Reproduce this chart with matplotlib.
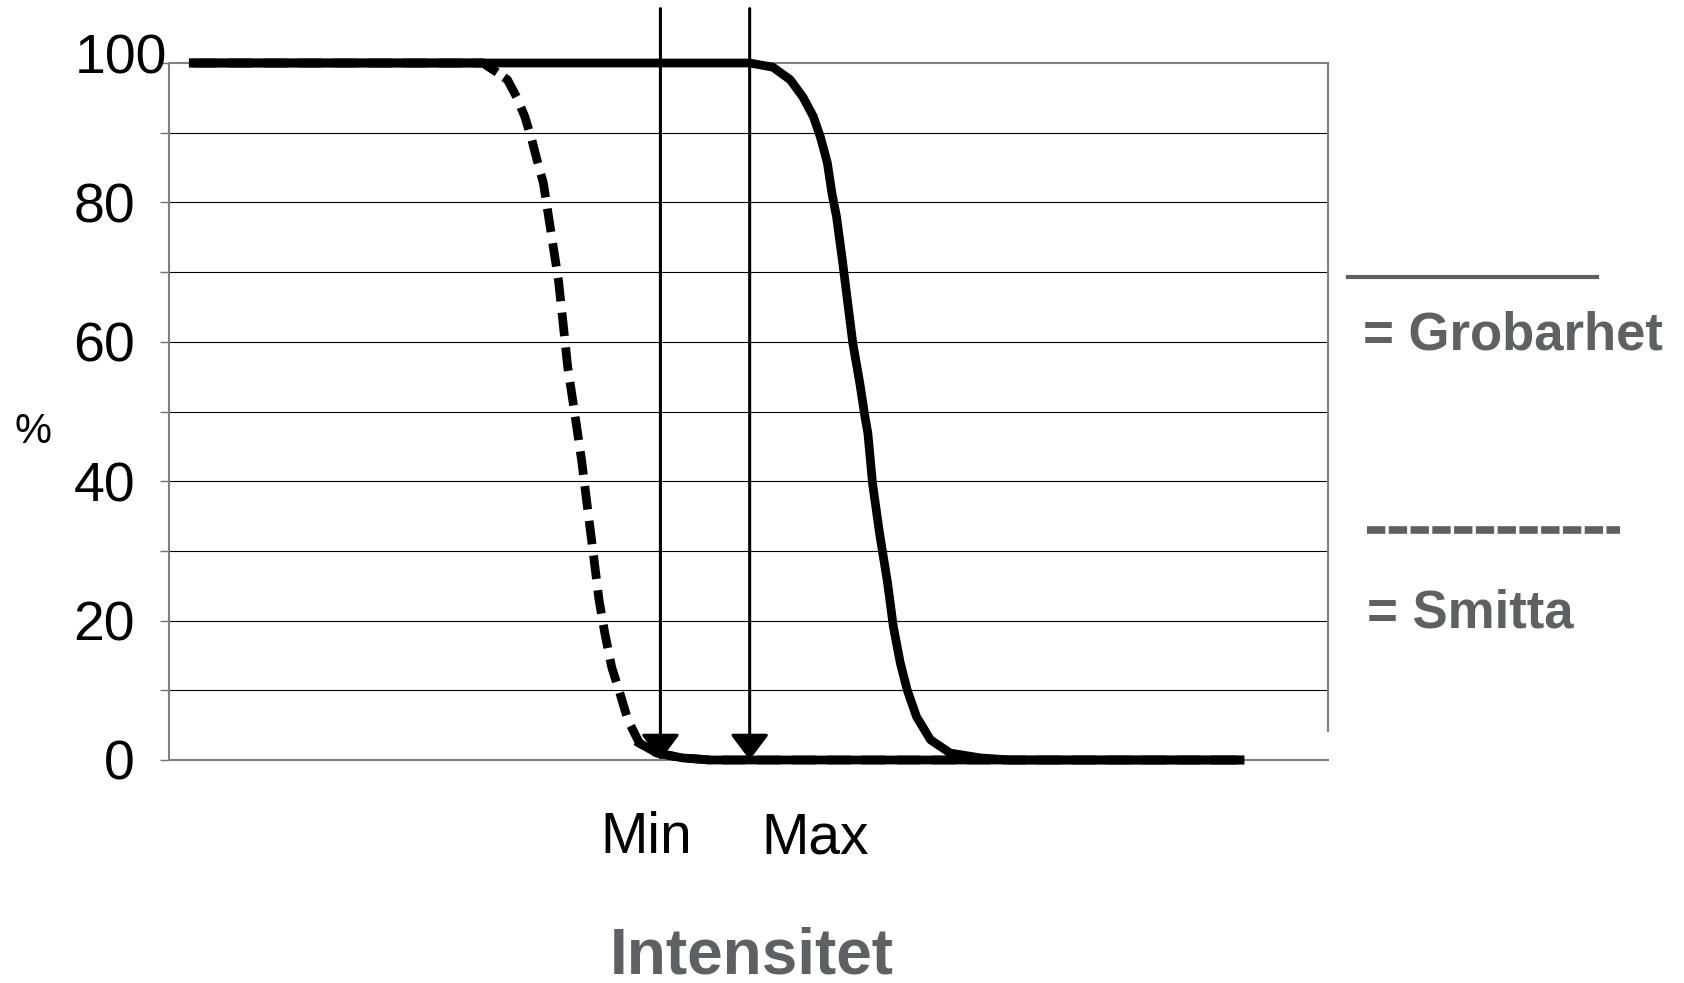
import numpy as np
import matplotlib.pyplot as plt
from matplotlib.lines import Line2D

plt.rcParams['font.family'] = ['Liberation Sans', 'DejaVu Sans']

# Intensitet (arbitrary units 0-100) and percentage
smitta_x = [2.1, 27.1, 28.0, 29.2, 30.0, 30.7, 31.3, 31.75, 32.3, 32.7, 33.1, 33.6,
            34.0, 34.4, 35.0, 35.6, 36.1, 36.6, 37.1, 37.6, 38.2, 38.9, 39.6,
            40.6, 42.1, 44.3, 46.7, 92.4]
smitta_y = [100, 100, 99.0, 97.6, 95.1, 92.3, 89.0, 86.1, 82.8, 78.5, 74.2, 68.9,
            62.7, 56.4, 49.8, 43.0, 36.3, 29.7, 23.0, 18.2, 13.3, 9.6, 5.7,
            2.4, 1.0, 0.3, 0, 0]

grob_x = [2.1, 50.1, 52.1, 53.6, 54.7, 55.6, 56.2, 56.8, 57.2, 57.6, 58.1, 58.5,
          59.0, 59.6, 60.05, 60.3, 60.7, 61.3, 62.0, 62.5, 63.1, 63.7, 64.5,
          65.7, 67.4, 70.0, 72.6, 92.4]
grob_y = [100, 100, 99.4, 97.6, 95.1, 92.3, 89.4, 85.7, 81.3, 77.9, 71.7, 66.4,
          59.8, 54.1, 49.2, 46.9, 39.7, 32.6, 25.4, 19.1, 13.9, 10.0, 6.2,
          2.9, 1.0, 0.3, 0, 0]

arrow_x = [42.4, 50.1]
arrow_labels = ['Min', 'Max']
yticks = list(range(0, 101, 10))
ytick_labels = ['0', '', '20', '', '40', '', '60', '', '80', '', '']

W, H = 1684, 983
grey = '#5f6062'
fig = plt.figure(figsize=(W / 100, H / 100), dpi=100)
ax = fig.add_axes([169 / W, 1 - 760 / H, (1328 - 169) / W, (760 - 63) / H])
ax.set_xlim(0, 100)
ax.set_ylim(0, 100)

# grid
for y in yticks[1:-1]:
    ax.axhline(y, color='black', lw=0.8, zorder=1)

ax.set_xticks([])
ax.set_yticks(yticks)
ax.set_yticklabels(ytick_labels, fontsize=40)
ax.tick_params(axis='y', direction='out', length=6.5, width=1, color='#707070', pad=18)
# the "100" label sits closer to the axis in the original
ax.text(-0.0017, 100.5, '100', fontsize=40, ha='right', va='center',
        transform=ax.get_yaxis_transform(), clip_on=False)

for side in ['left', 'top', 'bottom', 'right']:
    ax.spines[side].set_color('#808080')
    ax.spines[side].set_linewidth(1.5)
ax.spines['right'].set_bounds(4.2, 100)

# curves
sx = np.array(smitta_x)
sy = np.array(smitta_y)
ax.plot(sx, sy, color='black', lw=6.3, dashes=(2.7, 1.3), solid_capstyle='butt',
        zorder=3, clip_on=False)
flat = np.where((sy <= 2.5) | (sy >= 99), sy, np.nan)
ax.plot(sx, flat, color='black', lw=6.3, zorder=3, clip_on=False,
        solid_joinstyle='round')
ax.plot(grob_x, grob_y, color='black', lw=6.3, zorder=3, clip_on=False,
        solid_joinstyle='round')

# arrows
for x in arrow_x:
    ax.annotate('', xy=(x, 0), xytext=(x, 107.8), annotation_clip=False,
                arrowprops=dict(arrowstyle='-|>,head_length=1.6,head_width=1.2',
                                mutation_scale=10, lw=2.2, color='black',
                                shrinkA=0, shrinkB=0), zorder=4)

fig.text(646 / W, 1 - 853 / H, arrow_labels[0], fontsize=41, ha='center', va='baseline')
fig.text(815 / W, 1 - 853 / H, arrow_labels[1], fontsize=41, ha='center', va='baseline')
fig.text(752 / W, 1 - 974 / H, 'Intensitet', fontsize=46, fontweight='bold',
         color=grey, ha='center', va='baseline')
fig.text(33 / W, 1 - 443 / H, '%', fontsize=30, ha='center', va='baseline')

# legend drawn by hand
fig.add_artist(Line2D([1348 / W, 1597 / W], [1 - 277 / H] * 2, lw=3, color=grey))
fig.text(1363 / W, 1 - 350 / H, '= Grobarhet', fontsize=38, fontweight='bold',
         color=grey, ha='left', va='baseline')
fig.add_artist(Line2D([1367 / W, 1620 / W], [1 - 530 / H] * 2, lw=5.5, color=grey,
                      dashes=(2.4, 0.45), solid_capstyle='butt'))
fig.text(1367 / W, 1 - 628 / H, '= Smitta', fontsize=38, fontweight='bold',
         color=grey, ha='left', va='baseline')

fig.savefig('out.png', dpi=100)
